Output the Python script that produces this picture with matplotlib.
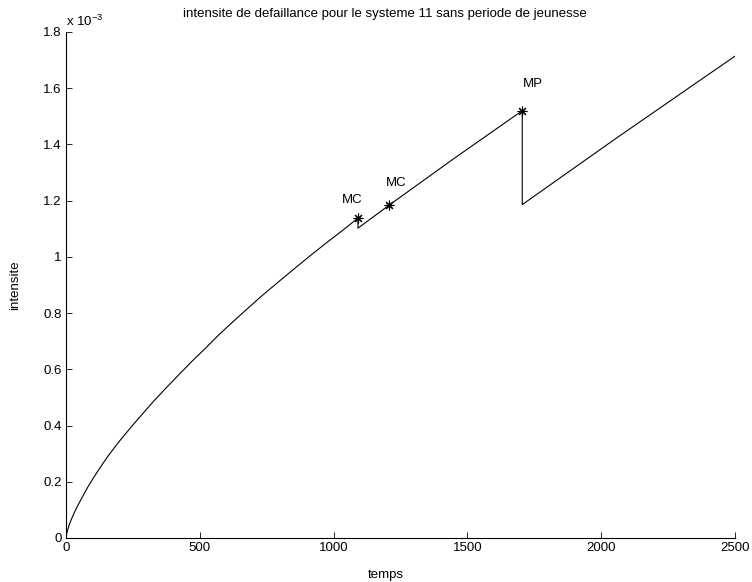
import matplotlib
matplotlib.use('Agg')
import matplotlib.pyplot as plt

# intensite de defaillance (units of 1e-3)
temps = [0, 2, 5, 12, 22, 30, 37, 45, 55, 68, 82, 100, 119, 140, 160, 190,
         220, 250, 280, 326, 375, 425, 470, 520, 565, 612, 670, 730, 800,
         861, 920, 980, 1040, 1091,
         1091, 1206, 1450, 1705,
         1705, 2050, 2381, 2500]
intensite = [0, 0.013, 0.025, 0.047, 0.071, 0.088, 0.102, 0.117, 0.135, 0.158,
             0.182, 0.210, 0.238, 0.268, 0.295, 0.333, 0.368, 0.402, 0.435,
             0.485, 0.535, 0.584, 0.628, 0.674, 0.717, 0.759, 0.809, 0.860,
             0.916, 0.964, 1.010, 1.055, 1.099, 1.138,
             1.102, 1.183, 1.350, 1.520,
             1.186, 1.418, 1.636, 1.714]

# maintenance events (asterisk markers)
evt_t = [1091, 1206, 1705]
evt_y = [1.138, 1.183, 1.520]
evt_lbl = ['MC', 'MC', 'MP']
lbl_t = [1030, 1197, 1709]
lbl_y = [1.204, 1.264, 1.614]

xticks = [0, 500, 1000, 1500, 2000, 2500]
yticks = [0, 0.2, 0.4, 0.6, 0.8, 1.0, 1.2, 1.4, 1.6, 1.8]

plt.rcParams['font.family'] = ['Liberation Sans', 'DejaVu Sans']
plt.rcParams['mathtext.default'] = 'regular'
fs = 9.5

W, H = 752, 582
fig = plt.figure(figsize=(W / 100.0, H / 100.0), dpi=100)
ax = fig.add_axes([66.0 / W, 1 - 538.0 / H, 669.0 / W, 506.0 / H])

ax.plot(temps, intensite, color='black', linewidth=0.8)
ax.plot(evt_t, evt_y, linestyle='none', marker=(8, 2, 0), color='black',
        markersize=7, markeredgewidth=0.8)
for x, y, s in zip(lbl_t, lbl_y, evt_lbl):
    ax.text(x, y, s, ha='left', va='center', fontsize=fs)

ax.set_xlim(0, 2500)
ax.set_ylim(0, 1.8)
ax.set_xticks(xticks)
ax.set_yticks(yticks)
ax.set_xticklabels(['%g' % v for v in xticks])
ax.set_yticklabels(['%g' % v for v in yticks])
ax.tick_params(direction='in', length=4, width=0.6, labelsize=fs, pad=3)
ax.spines['top'].set_visible(False)
ax.spines['right'].set_visible(False)
for sp in ['left', 'bottom']:
    ax.spines[sp].set_linewidth(0.8)

fig.text(385.0 / W, 1 - 14.0 / H,
         'intensite de defaillance pour le systeme 11 sans periode de jeunesse',
         ha='center', va='center', fontsize=fs)
fig.text(386.0 / W, 1 - 575.0 / H, 'temps', ha='center', va='center', fontsize=fs)
fig.text(15.0 / W, 1 - 285.0 / H, 'intensite', ha='center', va='center',
         rotation=90, fontsize=fs)
fig.text(66.0 / W, 1 - 26.0 / H, r'x 10$^{-3}$', ha='left', va='baseline',
         fontsize=fs)

plt.savefig('out.png', dpi=100)
